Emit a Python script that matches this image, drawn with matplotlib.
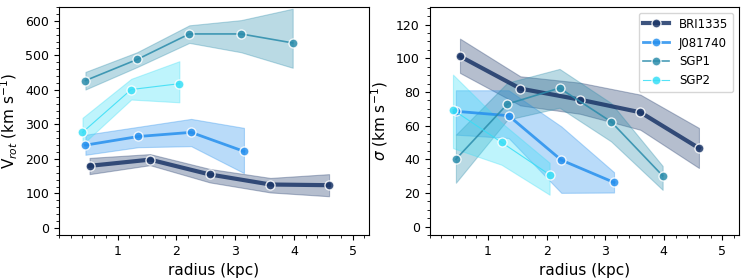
import matplotlib
matplotlib.use("Agg")
import matplotlib.pyplot as plt
from matplotlib.ticker import AutoMinorLocator

names = ["BRI1335", "J081740", "SGP1", "SGP2"]
colors = ["#1b3668", "#2690ee", "#2a8cab", "#36def6"]
widths = [3.0, 2.0, 1.2, 0.8]

radius = [
    [0.52, 1.55, 2.57, 3.60, 4.60],
    [0.45, 1.35, 2.25, 3.15],
    [0.45, 1.33, 2.22, 3.10, 3.98],
    [0.40, 1.23, 2.05],
]

vrot = [
    [180, 198, 155, 126, 124],
    [240, 265, 277, 222],
    [427, 488, 562, 562, 536],
    [277, 401, 418],
]
vrot_lo = [
    [156, 182, 132, 103, 92],
    [212, 234, 237, 159],
    [401, 466, 536, 509, 464],
    [242, 372, 364],
]
vrot_hi = [
    [203, 214, 171, 145, 156],
    [270, 293, 316, 290],
    [452, 509, 587, 602, 635],
    [319, 432, 483],
]

sigma = [
    [101.2, 82.0, 75.4, 67.9, 46.6],
    [68.5, 65.9, 39.5, 26.2],
    [40.0, 72.8, 82.3, 62.3, 30.2],
    [69.4, 50.0, 30.8],
]
sigma_lo = [
    [91.3, 72.0, 67.0, 57.5, 34.8],
    [54.6, 52.6, 20.0, 20.2],
    [26.0, 63.5, 70.6, 50.6, 21.8],
    [46.6, 36.7, 18.9],
]
sigma_hi = [
    [111.7, 89.3, 85.5, 78.4, 58.6],
    [81.0, 81.0, 59.5, 32.3],
    [54.6, 85.5, 93.7, 73.4, 36.0],
    [90.3, 61.7, 37.9],
]

fig = plt.figure(figsize=(7.47, 2.8), dpi=100)
ax1 = fig.add_axes([0.079, 0.161, 0.415, 0.814])
ax2 = fig.add_axes([0.575, 0.161, 0.414, 0.814])


def panel(ax, ys, lo, hi):
    for i, name in enumerate(names):
        ax.fill_between(radius[i], lo[i], hi[i], color=colors[i], alpha=0.32,
                        linewidth=0.8, edgecolor=colors[i])
        ax.plot(radius[i], ys[i], "-o", color=colors[i], lw=widths[i], alpha=0.85,
                ms=6.5, mec="white", mew=1.0, label=name)
    ax.set_xlim(0.0, 5.28)
    ax.set_xticks([1, 2, 3, 4, 5])
    ax.xaxis.set_minor_locator(AutoMinorLocator(5))
    ax.yaxis.set_minor_locator(AutoMinorLocator())
    ax.set_xlabel("radius (kpc)", fontsize=11)
    ax.tick_params(labelsize=9)


panel(ax1, vrot, vrot_lo, vrot_hi)
ax1.set_ylim(-20, 640)
ax1.set_yticks([0, 100, 200, 300, 400, 500, 600])
ax1.set_ylabel(r"V$_{rot}$ (km s$^{-1}$)", fontsize=11)

panel(ax2, sigma, sigma_lo, sigma_hi)
ax2.set_ylim(-5, 130.5)
ax2.set_yticks([0, 20, 40, 60, 80, 100, 120])
ax2.set_ylabel(r"$\sigma$ (km s$^{-1}$)", fontsize=11)
ax2.legend(loc="upper right", fontsize=8.5, handlelength=2.2)

fig.savefig("out.png", dpi=100, facecolor="white")
